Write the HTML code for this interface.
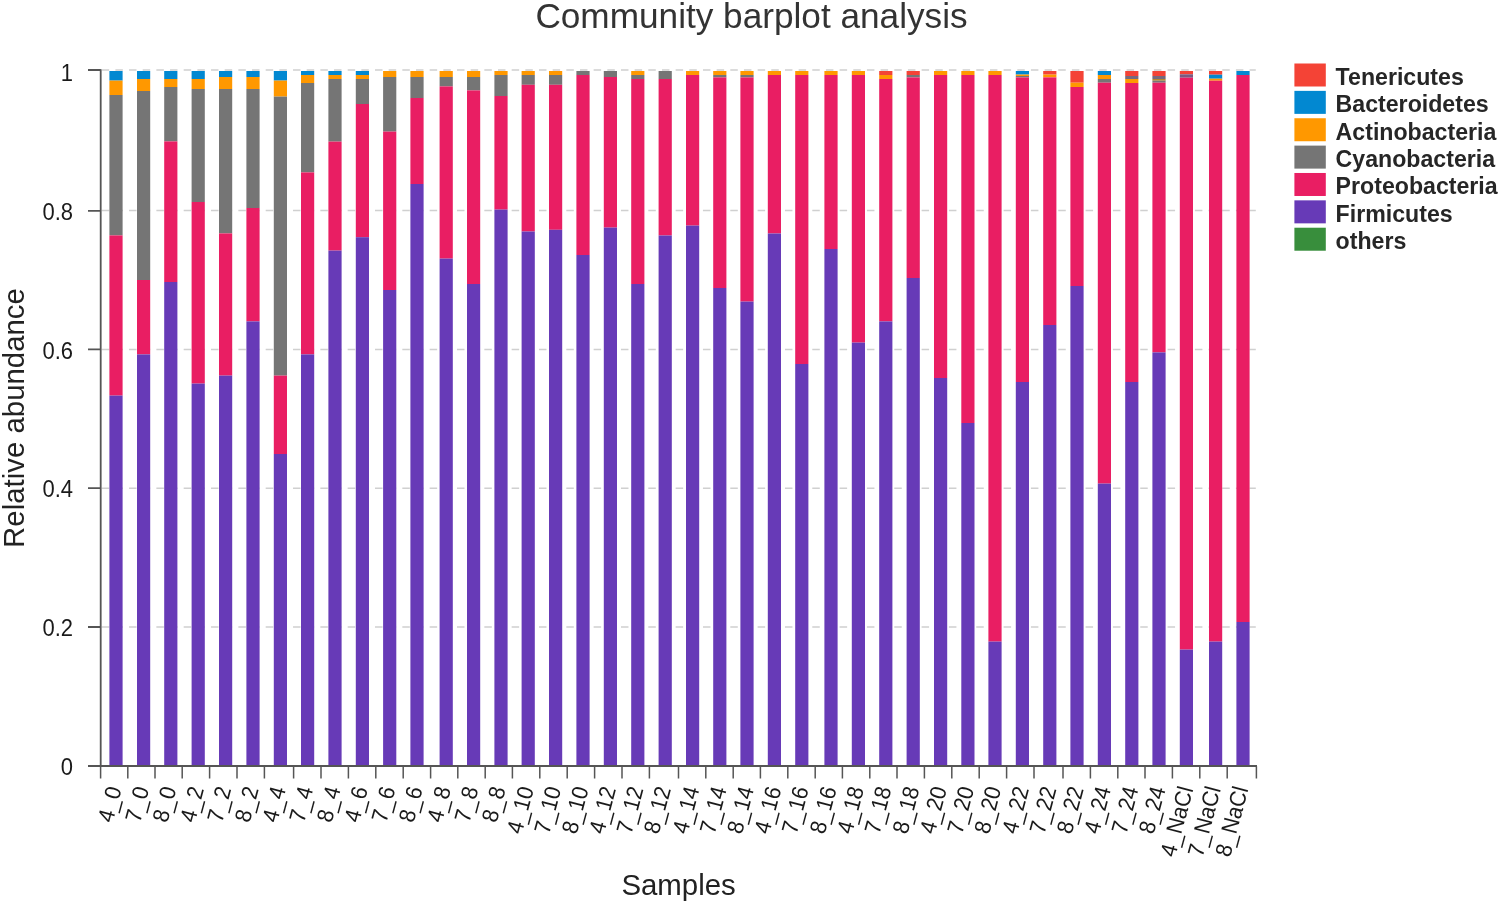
<!DOCTYPE html>
<html><head><meta charset="utf-8"><title>Community barplot analysis</title>
<style>
html,body{margin:0;padding:0;background:#fff;}
body{width:1500px;height:904px;overflow:hidden;}
svg{display:block;font-family:"Liberation Sans",Arial,sans-serif;}
.t{font-size:35.2px;fill:#333;}
.a{font-size:29.4px;fill:#222;}
.k{font-size:22px;fill:#1a1a1a;}
.l{font-size:23.15px;font-weight:bold;fill:#262626;}
</style></head><body>
<svg width="1500" height="904" viewBox="0 0 1500 904">
<rect width="1500" height="904" fill="#fff"/>
<text class="t" x="751.5" y="27.7" text-anchor="middle">Community barplot analysis</text>
<g stroke="#d0d0d0" stroke-width="1.5" stroke-dasharray="7.5 6.165" fill="none">
<path d="M101.7 70H1255.8"/>
<path d="M101.7 210.6H1255.8"/>
<path d="M101.7 349.4H1255.8"/>
<path d="M101.7 488.2H1255.8"/>
<path d="M101.7 627H1255.8"/>
</g>
<g shape-rendering="auto">
<rect x="109.4" y="71.0" width="13.2" height="9.6" fill="#0288D1"/><rect x="109.4" y="80.6" width="13.2" height="14.4" fill="#FF9800"/><rect x="109.4" y="95" width="13.2" height="140.4" fill="#757575"/><rect x="109.4" y="235.4" width="13.2" height="160.2" fill="#E91E63"/><rect x="109.4" y="395.6" width="13.2" height="370.6" fill="#673AB7"/>
<rect x="137" y="71.0" width="13.2" height="8.0" fill="#0288D1"/><rect x="137" y="79" width="13.2" height="12" fill="#FF9800"/><rect x="137" y="91" width="13.2" height="189" fill="#757575"/><rect x="137" y="280" width="13.2" height="74.4" fill="#E91E63"/><rect x="137" y="354.4" width="13.2" height="411.8" fill="#673AB7"/>
<rect x="164.2" y="71.0" width="13.2" height="8.0" fill="#0288D1"/><rect x="164.2" y="79" width="13.2" height="8" fill="#FF9800"/><rect x="164.2" y="87" width="13.2" height="54.4" fill="#757575"/><rect x="164.2" y="141.4" width="13.2" height="140.6" fill="#E91E63"/><rect x="164.2" y="282" width="13.2" height="484.2" fill="#673AB7"/>
<rect x="191.6" y="71.0" width="13.2" height="8.0" fill="#0288D1"/><rect x="191.6" y="79" width="13.2" height="10" fill="#FF9800"/><rect x="191.6" y="89" width="13.2" height="113" fill="#757575"/><rect x="191.6" y="202" width="13.2" height="181.6" fill="#E91E63"/><rect x="191.6" y="383.6" width="13.2" height="382.6" fill="#673AB7"/>
<rect x="219" y="71.0" width="13.2" height="6.0" fill="#0288D1"/><rect x="219" y="77" width="13.2" height="12" fill="#FF9800"/><rect x="219" y="89" width="13.2" height="144.4" fill="#757575"/><rect x="219" y="233.4" width="13.2" height="142.2" fill="#E91E63"/><rect x="219" y="375.6" width="13.2" height="390.6" fill="#673AB7"/>
<rect x="246.4" y="71.0" width="13.2" height="6.0" fill="#0288D1"/><rect x="246.4" y="77" width="13.2" height="12" fill="#FF9800"/><rect x="246.4" y="89" width="13.2" height="119" fill="#757575"/><rect x="246.4" y="208" width="13.2" height="113.4" fill="#E91E63"/><rect x="246.4" y="321.4" width="13.2" height="444.8" fill="#673AB7"/>
<rect x="273.8" y="71.0" width="13.2" height="9.6" fill="#0288D1"/><rect x="273.8" y="80.6" width="13.2" height="16.0" fill="#FF9800"/><rect x="273.8" y="96.6" width="13.2" height="279.0" fill="#757575"/><rect x="273.8" y="375.6" width="13.2" height="78.4" fill="#E91E63"/><rect x="273.8" y="454" width="13.2" height="312.2" fill="#673AB7"/>
<rect x="301" y="71.0" width="13.2" height="4.0" fill="#0288D1"/><rect x="301" y="75" width="13.2" height="8" fill="#FF9800"/><rect x="301" y="83" width="13.2" height="89.4" fill="#757575"/><rect x="301" y="172.4" width="13.2" height="182.0" fill="#E91E63"/><rect x="301" y="354.4" width="13.2" height="411.8" fill="#673AB7"/>
<rect x="328.4" y="71.0" width="13.2" height="4.0" fill="#0288D1"/><rect x="328.4" y="75" width="13.2" height="4" fill="#FF9800"/><rect x="328.4" y="79" width="13.2" height="62.6" fill="#757575"/><rect x="328.4" y="141.6" width="13.2" height="109.0" fill="#E91E63"/><rect x="328.4" y="250.6" width="13.2" height="515.6" fill="#673AB7"/>
<rect x="355.8" y="71.0" width="13.2" height="4.0" fill="#0288D1"/><rect x="355.8" y="75" width="13.2" height="4" fill="#FF9800"/><rect x="355.8" y="79" width="13.2" height="25" fill="#757575"/><rect x="355.8" y="104" width="13.2" height="133.2" fill="#E91E63"/><rect x="355.8" y="237.2" width="13.2" height="529.0" fill="#673AB7"/>
<rect x="383.1" y="71.0" width="13.2" height="6.0" fill="#FF9800"/><rect x="383.1" y="77" width="13.2" height="54.6" fill="#757575"/><rect x="383.1" y="131.6" width="13.2" height="158.4" fill="#E91E63"/><rect x="383.1" y="290" width="13.2" height="476.2" fill="#673AB7"/>
<rect x="410.4" y="71.0" width="13.2" height="6.0" fill="#FF9800"/><rect x="410.4" y="77" width="13.2" height="21" fill="#757575"/><rect x="410.4" y="98" width="13.2" height="86" fill="#E91E63"/><rect x="410.4" y="184" width="13.2" height="582.2" fill="#673AB7"/>
<rect x="439.6" y="71.0" width="13.2" height="6.0" fill="#FF9800"/><rect x="439.6" y="77" width="13.2" height="9.4" fill="#757575"/><rect x="439.6" y="86.4" width="13.2" height="172.2" fill="#E91E63"/><rect x="439.6" y="258.6" width="13.2" height="507.6" fill="#673AB7"/>
<rect x="467" y="71.0" width="13.2" height="6.0" fill="#FF9800"/><rect x="467" y="77" width="13.2" height="13.4" fill="#757575"/><rect x="467" y="90.4" width="13.2" height="193.6" fill="#E91E63"/><rect x="467" y="284" width="13.2" height="482.2" fill="#673AB7"/>
<rect x="494.4" y="71.0" width="13.2" height="4.0" fill="#FF9800"/><rect x="494.4" y="75" width="13.2" height="21" fill="#757575"/><rect x="494.4" y="96" width="13.2" height="113.6" fill="#E91E63"/><rect x="494.4" y="209.6" width="13.2" height="556.6" fill="#673AB7"/>
<rect x="521.6" y="71.0" width="13.2" height="4.0" fill="#FF9800"/><rect x="521.6" y="75" width="13.2" height="9.8" fill="#757575"/><rect x="521.6" y="84.8" width="13.2" height="146.7" fill="#E91E63"/><rect x="521.6" y="231.5" width="13.2" height="534.7" fill="#673AB7"/>
<rect x="549" y="71.0" width="13.2" height="4.0" fill="#FF9800"/><rect x="549" y="75" width="13.2" height="9.8" fill="#757575"/><rect x="549" y="84.8" width="13.2" height="145.0" fill="#E91E63"/><rect x="549" y="229.8" width="13.2" height="536.4" fill="#673AB7"/>
<rect x="576.4" y="71.0" width="13.2" height="4.0" fill="#757575"/><rect x="576.4" y="75" width="13.2" height="180" fill="#E91E63"/><rect x="576.4" y="255" width="13.2" height="511.2" fill="#673AB7"/>
<rect x="603.8" y="71.0" width="13.2" height="6.0" fill="#757575"/><rect x="603.8" y="77" width="13.2" height="150.6" fill="#E91E63"/><rect x="603.8" y="227.6" width="13.2" height="538.6" fill="#673AB7"/>
<rect x="631.2" y="71.0" width="13.2" height="4.0" fill="#FF9800"/><rect x="631.2" y="75" width="13.2" height="4" fill="#757575"/><rect x="631.2" y="79" width="13.2" height="205" fill="#E91E63"/><rect x="631.2" y="284" width="13.2" height="482.2" fill="#673AB7"/>
<rect x="658.6" y="71.0" width="13.2" height="8.0" fill="#757575"/><rect x="658.6" y="79" width="13.2" height="156.5" fill="#E91E63"/><rect x="658.6" y="235.5" width="13.2" height="530.7" fill="#673AB7"/>
<rect x="686" y="71.0" width="13.2" height="4.0" fill="#FF9800"/><rect x="686" y="75" width="13.2" height="150.6" fill="#E91E63"/><rect x="686" y="225.6" width="13.2" height="540.6" fill="#673AB7"/>
<rect x="713.2" y="71.0" width="13.2" height="4.0" fill="#FF9800"/><rect x="713.2" y="75" width="13.2" height="2.4" fill="#757575"/><rect x="713.2" y="77.4" width="13.2" height="210.6" fill="#E91E63"/><rect x="713.2" y="288" width="13.2" height="478.2" fill="#673AB7"/>
<rect x="740.4" y="71.0" width="13.2" height="4.0" fill="#FF9800"/><rect x="740.4" y="75" width="13.2" height="2.4" fill="#757575"/><rect x="740.4" y="77.4" width="13.2" height="224.2" fill="#E91E63"/><rect x="740.4" y="301.6" width="13.2" height="464.6" fill="#673AB7"/>
<rect x="767.8" y="71.0" width="13.2" height="4.0" fill="#FF9800"/><rect x="767.8" y="75" width="13.2" height="158.5" fill="#E91E63"/><rect x="767.8" y="233.5" width="13.2" height="532.7" fill="#673AB7"/>
<rect x="795.2" y="71.0" width="13.2" height="4.0" fill="#FF9800"/><rect x="795.2" y="75" width="13.2" height="289" fill="#E91E63"/><rect x="795.2" y="364" width="13.2" height="402.2" fill="#673AB7"/>
<rect x="824.4" y="71.0" width="13.2" height="4.0" fill="#FF9800"/><rect x="824.4" y="75" width="13.2" height="174" fill="#E91E63"/><rect x="824.4" y="249" width="13.2" height="517.2" fill="#673AB7"/>
<rect x="851.8" y="71.0" width="13.2" height="4.0" fill="#FF9800"/><rect x="851.8" y="75" width="13.2" height="267.6" fill="#E91E63"/><rect x="851.8" y="342.6" width="13.2" height="423.6" fill="#673AB7"/>
<rect x="879.2" y="71.0" width="13.2" height="4.0" fill="#F44336"/><rect x="879.2" y="75" width="13.2" height="4" fill="#FF9800"/><rect x="879.2" y="79" width="13.2" height="242.4" fill="#E91E63"/><rect x="879.2" y="321.4" width="13.2" height="444.8" fill="#673AB7"/>
<rect x="906.6" y="71.0" width="13.2" height="4.0" fill="#F44336"/><rect x="906.6" y="75" width="13.2" height="2.4" fill="#757575"/><rect x="906.6" y="77.4" width="13.2" height="200.6" fill="#E91E63"/><rect x="906.6" y="278" width="13.2" height="488.2" fill="#673AB7"/>
<rect x="934" y="71.0" width="13.2" height="4.0" fill="#FF9800"/><rect x="934" y="75" width="13.2" height="303" fill="#E91E63"/><rect x="934" y="378" width="13.2" height="388.2" fill="#673AB7"/>
<rect x="961.3" y="71.0" width="13.2" height="4.0" fill="#FF9800"/><rect x="961.3" y="75" width="13.2" height="348" fill="#E91E63"/><rect x="961.3" y="423" width="13.2" height="343.2" fill="#673AB7"/>
<rect x="988.4" y="71.0" width="13.2" height="4.0" fill="#FF9800"/><rect x="988.4" y="75" width="13.2" height="566.6" fill="#E91E63"/><rect x="988.4" y="641.6" width="13.2" height="124.6" fill="#673AB7"/>
<rect x="1015.8" y="71.0" width="13.2" height="3.6" fill="#0288D1"/><rect x="1015.8" y="74.6" width="13.2" height="1.4" fill="#FF9800"/><rect x="1015.8" y="76" width="13.2" height="1.4" fill="#757575"/><rect x="1015.8" y="77.4" width="13.2" height="304.6" fill="#E91E63"/><rect x="1015.8" y="382" width="13.2" height="384.2" fill="#673AB7"/>
<rect x="1043.2" y="71.0" width="13.2" height="3.6" fill="#F44336"/><rect x="1043.2" y="74.6" width="13.2" height="2.8" fill="#FF9800"/><rect x="1043.2" y="77.4" width="13.2" height="247.6" fill="#E91E63"/><rect x="1043.2" y="325" width="13.2" height="441.2" fill="#673AB7"/>
<rect x="1070.4" y="71.0" width="13.2" height="11.7" fill="#F44336"/><rect x="1070.4" y="82.7" width="13.2" height="4.3" fill="#FF9800"/><rect x="1070.4" y="87" width="13.2" height="199" fill="#E91E63"/><rect x="1070.4" y="286" width="13.2" height="480.2" fill="#673AB7"/>
<rect x="1097.8" y="71.0" width="13.2" height="4.0" fill="#0288D1"/><rect x="1097.8" y="75" width="13.2" height="4" fill="#FF9800"/><rect x="1097.8" y="79" width="13.2" height="3.7" fill="#757575"/><rect x="1097.8" y="82.7" width="13.2" height="400.9" fill="#E91E63"/><rect x="1097.8" y="483.6" width="13.2" height="282.6" fill="#673AB7"/>
<rect x="1125.2" y="71.0" width="13.2" height="5.0" fill="#F44336"/><rect x="1125.2" y="76" width="13.2" height="3" fill="#756A7E"/><rect x="1125.2" y="79" width="13.2" height="4" fill="#FF9800"/><rect x="1125.2" y="83" width="13.2" height="299" fill="#E91E63"/><rect x="1125.2" y="382" width="13.2" height="384.2" fill="#673AB7"/>
<rect x="1152.4" y="71.0" width="13.2" height="5.0" fill="#F44336"/><rect x="1152.4" y="76" width="13.2" height="3" fill="#756A7E"/><rect x="1152.4" y="79" width="13.2" height="1.7" fill="#B8862B"/><rect x="1152.4" y="80.7" width="13.2" height="2.0" fill="#757575"/><rect x="1152.4" y="82.7" width="13.2" height="269.7" fill="#E91E63"/><rect x="1152.4" y="352.4" width="13.2" height="413.8" fill="#673AB7"/>
<rect x="1179.8" y="71.0" width="13.2" height="3.3" fill="#F44336"/><rect x="1179.8" y="74.3" width="13.2" height="3.4" fill="#7B5A82"/><rect x="1179.8" y="77.7" width="13.2" height="571.9" fill="#E91E63"/><rect x="1179.8" y="649.6" width="13.2" height="116.6" fill="#673AB7"/>
<rect x="1209" y="71.0" width="13.2" height="3.7" fill="#F44336"/><rect x="1209" y="74.7" width="13.2" height="4.0" fill="#0288D1"/><rect x="1209" y="78.7" width="13.2" height="2.0" fill="#FF9800"/><rect x="1209" y="80.7" width="13.2" height="560.9" fill="#E91E63"/><rect x="1209" y="641.6" width="13.2" height="124.6" fill="#673AB7"/>
<rect x="1236.4" y="71.0" width="13.2" height="4.0" fill="#0288D1"/><rect x="1236.4" y="75" width="13.2" height="547" fill="#E91E63"/><rect x="1236.4" y="622" width="13.2" height="144.2" fill="#673AB7"/>
</g>
<g stroke="#555" fill="none">
<path stroke-width="1.8" d="M100.7 69.2V767.1"/>
<path stroke-width="1.8" d="M88 766H1257"/>
<path stroke-width="1.8" d="M88 70H100.7M88 210.8H100.7M88 349.4H100.7M88 488.2H100.7M88 627H100.7"/>
<path stroke-width="1.5" d="M100.6 766.2V778.4M127.8 766.2V778.4M155 766.2V778.4M182.2 766.2V778.4M209.6 766.2V778.4M237 766.2V778.4M264.4 766.2V778.4M293.6 766.2V778.4M321 766.2V778.4M348.4 766.2V778.4M375.8 766.2V778.4M403.2 766.2V778.4M430.6 766.2V778.4M457.8 766.2V778.4M485.2 766.2V778.4M512.4 766.2V778.4M539.8 766.2V778.4M567.2 766.2V778.4M594.6 766.2V778.4M622 766.2V778.4M649.4 766.2V778.4M678.5 766.2V778.4M705.8 766.2V778.4M733.2 766.2V778.4M760.4 766.2V778.4M787.8 766.2V778.4M815.2 766.2V778.4M842.4 766.2V778.4M869.8 766.2V778.4M897 766.2V778.4M924.4 766.2V778.4M951.8 766.2V778.4M979.2 766.2V778.4M1006.6 766.2V778.4M1034 766.2V778.4M1063 766.2V778.4M1090.4 766.2V778.4M1117.8 766.2V778.4M1145 766.2V778.4M1172.4 766.2V778.4M1199.8 766.2V778.4M1227.2 766.2V778.4M1256.4 766.2V778.4"/>
</g>
<g class="k" text-anchor="end">
<text transform="translate(73 80.7) scale(1 1.055)">1</text><text transform="translate(73 219.8) scale(1 1.055)">0.8</text><text transform="translate(73 358.6) scale(1 1.055)">0.6</text><text transform="translate(73 497.2) scale(1 1.055)">0.4</text><text transform="translate(73 636) scale(1 1.055)">0.2</text><text transform="translate(73 775) scale(1 1.055)">0</text>
</g>
<g class="k" text-anchor="end" style="font-size:21.5px">
<text transform="translate(114.7 787) rotate(-75) scale(1 1.06)" dy="6.9">4_0</text><text transform="translate(142.3 787) rotate(-75) scale(1 1.06)" dy="6.9">7_0</text><text transform="translate(169.5 787) rotate(-75) scale(1 1.06)" dy="6.9">8_0</text><text transform="translate(196.9 787) rotate(-75) scale(1 1.06)" dy="6.9">4_2</text><text transform="translate(224.3 787) rotate(-75) scale(1 1.06)" dy="6.9">7_2</text><text transform="translate(251.7 787) rotate(-75) scale(1 1.06)" dy="6.9">8_2</text><text transform="translate(279.1 787) rotate(-75) scale(1 1.06)" dy="6.9">4_4</text><text transform="translate(306.3 787) rotate(-75) scale(1 1.06)" dy="6.9">7_4</text><text transform="translate(333.7 787) rotate(-75) scale(1 1.06)" dy="6.9">8_4</text><text transform="translate(361.1 787) rotate(-75) scale(1 1.06)" dy="6.9">4_6</text><text transform="translate(388.4 787) rotate(-75) scale(1 1.06)" dy="6.9">7_6</text><text transform="translate(415.7 787) rotate(-75) scale(1 1.06)" dy="6.9">8_6</text><text transform="translate(444.0 787) rotate(-75) scale(1 1.06)" dy="6.9">4_8</text><text transform="translate(471.4 787) rotate(-75) scale(1 1.06)" dy="6.9">7_8</text><text transform="translate(498.8 787) rotate(-75) scale(1 1.06)" dy="6.9">8_8</text><text transform="translate(526.9 787) rotate(-75) scale(1 1.06)" dy="6.9">4_10</text><text transform="translate(554.3 787) rotate(-75) scale(1 1.06)" dy="6.9">7_10</text><text transform="translate(581.7 787) rotate(-75) scale(1 1.06)" dy="6.9">8_10</text><text transform="translate(609.1 787) rotate(-75) scale(1 1.06)" dy="6.9">4_12</text><text transform="translate(636.5 787) rotate(-75) scale(1 1.06)" dy="6.9">7_12</text><text transform="translate(663.9 787) rotate(-75) scale(1 1.06)" dy="6.9">8_12</text><text transform="translate(692.6 787) rotate(-75) scale(1 1.06)" dy="6.9">4_14</text><text transform="translate(719.8 787) rotate(-75) scale(1 1.06)" dy="6.9">7_14</text><text transform="translate(747.0 787) rotate(-75) scale(1 1.06)" dy="6.9">8_14</text><text transform="translate(774.4 787) rotate(-75) scale(1 1.06)" dy="6.9">4_16</text><text transform="translate(801.8 787) rotate(-75) scale(1 1.06)" dy="6.9">7_16</text><text transform="translate(829.7 787) rotate(-75) scale(1 1.06)" dy="6.9">8_16</text><text transform="translate(857.1 787) rotate(-75) scale(1 1.06)" dy="6.9">4_18</text><text transform="translate(884.5 787) rotate(-75) scale(1 1.06)" dy="6.9">7_18</text><text transform="translate(912.5 787) rotate(-75) scale(1 1.06)" dy="6.9">8_18</text><text transform="translate(939.9 787) rotate(-75) scale(1 1.06)" dy="6.9">4_20</text><text transform="translate(967.2 787) rotate(-75) scale(1 1.06)" dy="6.9">7_20</text><text transform="translate(994.3 787) rotate(-75) scale(1 1.06)" dy="6.9">8_20</text><text transform="translate(1022.1 787) rotate(-75) scale(1 1.06)" dy="6.9">4_22</text><text transform="translate(1049.5 787) rotate(-75) scale(1 1.06)" dy="6.9">7_22</text><text transform="translate(1076.7 787) rotate(-75) scale(1 1.06)" dy="6.9">8_22</text><text transform="translate(1104.1 787) rotate(-75) scale(1 1.06)" dy="6.9">4_24</text><text transform="translate(1131.5 787) rotate(-75) scale(1 1.06)" dy="6.9">7_24</text><text transform="translate(1158.7 787) rotate(-75) scale(1 1.06)" dy="6.9">8_24</text><text transform="translate(1186.4 787) rotate(-75) scale(1 1.06)" dy="6.9">4_NaCl</text><text transform="translate(1214.0 787) rotate(-75) scale(1 1.06)" dy="6.9">7_NaCl</text><text transform="translate(1241.4 787) rotate(-75) scale(1 1.06)" dy="6.9">8_NaCl</text>
</g>
<text class="a" x="678.6" y="894.6" text-anchor="middle">Samples</text>
<text class="a" transform="translate(23.8 418) rotate(-90)" text-anchor="middle">Relative abundance</text>
<g class="l">
<rect x="1294.4" y="63.5" width="31.4" height="23" fill="#F44336"/><text x="1335.6" y="84.9">Tenericutes</text>
<rect x="1294.4" y="90.87" width="31.4" height="23" fill="#0288D1"/><text x="1335.6" y="112.27">Bacteroidetes</text>
<rect x="1294.4" y="118.24" width="31.4" height="23" fill="#FF9800"/><text x="1335.6" y="139.64">Actinobacteria</text>
<rect x="1294.4" y="145.61" width="31.4" height="23" fill="#757575"/><text x="1335.6" y="167.01">Cyanobacteria</text>
<rect x="1294.4" y="172.98" width="31.4" height="23" fill="#E91E63"/><text x="1335.6" y="194.38">Proteobacteria</text>
<rect x="1294.4" y="200.35" width="31.4" height="23" fill="#673AB7"/><text x="1335.6" y="221.75">Firmicutes</text>
<rect x="1294.4" y="227.72" width="31.4" height="23" fill="#388E3C"/><text x="1335.6" y="249.12">others</text>
</g>
</svg>
</body></html>
